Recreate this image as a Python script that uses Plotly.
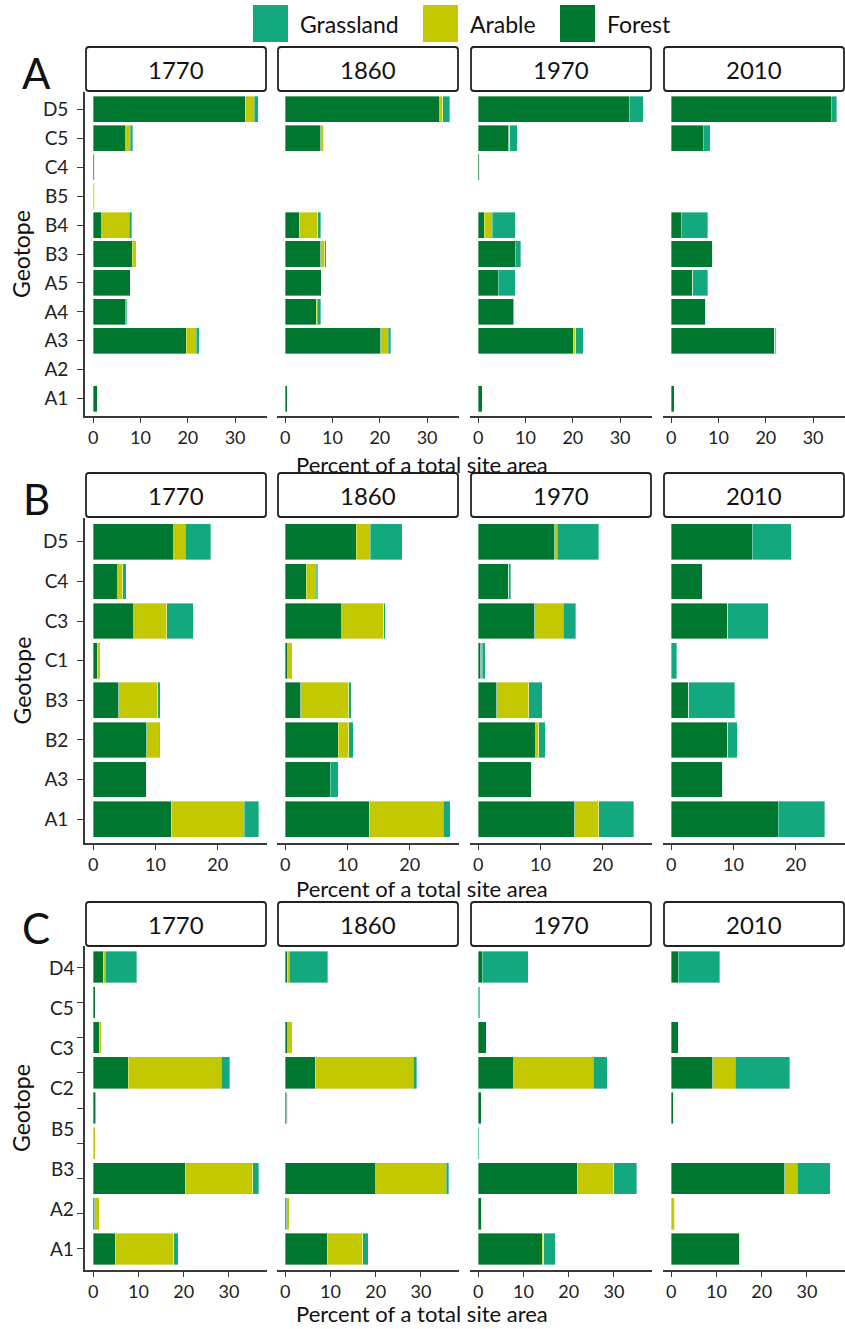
import numpy as np
import plotly.graph_objects as go

W, H = 845, 1329
FONT = "Lato"

years = ["1770", "1860", "1970", "2010"]
stack_order = ["Forest", "Arable", "Grassland"]      # left -> right in each bar
legend_order = ["Grassland", "Arable", "Forest"]
land_colors = {"Forest": "#00772f", "Arable": "#c3c800", "Grassland": "#13a87e"}

#################
# PANEL A DATA  #
#################
geotope_a = ["D5", "C5", "C4", "B5", "B4", "B3", "A5", "A4", "A3", "A2", "A1"]
forest_a = {
    "1770": [32.1, 6.9, 0.3, 0.0, 1.8, 8.2, 7.8, 6.8, 19.7, 0.0, 0.8],
    "1860": [32.7, 7.5, 0.0, 0.0, 3.0, 7.5, 7.6, 6.6, 20.2, 0.0, 0.4],
    "1970": [31.9, 6.4, 0.3, 0.0, 1.3, 7.8, 4.2, 7.4, 20.1, 0.0, 0.8],
    "2010": [33.8, 6.8, 0.0, 0.0, 2.1, 8.8, 4.5, 7.3, 21.9, 0.0, 0.6],
}
arable_a = {
    "1770": [1.9, 0.9, 0.0, 0.3, 5.8, 0.9, 0.0, 0.0, 2.1, 0.0, 0.0],
    "1860": [0.6, 0.6, 0.0, 0.0, 3.9, 0.9, 0.0, 0.2, 1.6, 0.0, 0.0],
    "1970": [0.0, 0.3, 0.0, 0.0, 1.7, 0.0, 0.0, 0.0, 0.5, 0.0, 0.0],
    "2010": [0.0, 0.0, 0.0, 0.0, 0.0, 0.0, 0.0, 0.0, 0.0, 0.0, 0.0],
}
grass_a = {
    "1770": [0.9, 0.6, 0.0, 0.0, 0.5, 0.0, 0.0, 0.3, 0.6, 0.0, 0.0],
    "1860": [1.5, 0.0, 0.0, 0.0, 0.6, 0.3, 0.0, 0.7, 0.5, 0.0, 0.0],
    "1970": [3.0, 1.5, 0.0, 0.0, 4.8, 1.2, 3.6, 0.2, 1.6, 0.0, 0.0],
    "2010": [1.2, 1.4, 0.0, 0.0, 5.6, 0.0, 3.2, 0.0, 0.2, 0.0, 0.0],
}
xticks_a = [0, 10, 20, 30]

#################
# PANEL B DATA  #
#################
geotope_b = ["D5", "C4", "C3", "C1", "B3", "B2", "A3", "A1"]
forest_b = {
    "1770": [12.9, 3.9, 6.5, 0.6, 4.1, 8.6, 8.5, 12.5],
    "1860": [11.4, 3.4, 9.1, 0.4, 2.5, 8.5, 7.2, 13.5],
    "1970": [12.3, 4.9, 9.1, 0.4, 3.0, 9.2, 8.5, 15.5],
    "2010": [13.0, 5.0, 9.1, 0.0, 2.8, 9.1, 8.3, 17.2],
}
arable_b = {
    "1770": [1.9, 0.8, 5.3, 0.5, 6.3, 2.0, 0.0, 11.8],
    "1860": [2.3, 1.6, 6.7, 0.7, 7.7, 1.7, 0.0, 11.9],
    "1970": [0.4, 0.0, 4.6, 0.2, 5.1, 0.5, 0.0, 3.9],
    "2010": [0.0, 0.0, 0.0, 0.0, 0.0, 0.0, 0.0, 0.0],
}
grass_b = {
    "1770": [4.1, 0.6, 4.3, 0.0, 0.4, 0.2, 0.0, 2.3],
    "1860": [5.1, 0.2, 0.3, 0.0, 0.4, 0.7, 1.3, 1.1],
    "1970": [6.7, 0.3, 2.0, 0.5, 2.2, 1.1, 0.0, 5.6],
    "2010": [6.3, 0.0, 6.5, 0.9, 7.4, 1.5, 0.0, 7.5],
}
xticks_b = [0, 10, 20]

#################
# PANEL C DATA  #
#################
# nine bar rows, but the original figure only carries eight geotope labels
rows_c = ["D4", "C5", "C3", "C2", "row5", "B5", "B3", "A2", "A1"]
labels_c = ["D4", "C5", "C3", "C2", "B5", "B3", "A2", "A1"]
forest_c = {
    "1770": [2.2, 0.45, 1.3, 7.7, 0.5, 0.0, 20.4, 0.35, 4.85],
    "1860": [0.45, 0.0, 0.6, 6.6, 0.35, 0.0, 20.0, 0.3, 9.3],
    "1970": [0.9, 0.0, 1.75, 7.9, 0.65, 0.0, 21.9, 0.8, 14.1],
    "2010": [1.5, 0.0, 1.5, 9.2, 0.5, 0.0, 25.1, 0.0, 15.2],
}
arable_c = {
    "1770": [0.45, 0.0, 0.6, 20.6, 0.15, 0.45, 14.9, 0.95, 12.95],
    "1860": [0.45, 0.0, 0.9, 21.7, 0.15, 0.0, 15.6, 0.6, 7.8],
    "1970": [0.0, 0.0, 0.0, 17.5, 0.0, 0.0, 8.1, 0.0, 0.4],
    "2010": [0.0, 0.0, 0.0, 5.0, 0.0, 0.0, 2.8, 0.8, 0.0],
}
grass_c = {
    "1770": [6.95, 0.0, 0.0, 1.9, 0.0, 0.0, 1.3, 0.0, 0.95],
    "1860": [8.5, 0.0, 0.0, 0.8, 0.0, 0.0, 0.6, 0.0, 1.2],
    "1970": [10.2, 0.3, 0.0, 3.1, 0.0, 0.2, 5.1, 0.0, 2.5],
    "2010": [9.2, 0.0, 0.0, 12.0, 0.0, 0.0, 7.3, 0.0, 0.0],
}
xticks_c = [0, 10, 20, 30]

panels = [
    dict(letter="A", rows=geotope_a, labels=None, ticks=xticks_a,
         data={"Forest": forest_a, "Arable": arable_a, "Grassland": grass_a}),
    dict(letter="B", rows=geotope_b, labels=None, ticks=xticks_b,
         data={"Forest": forest_b, "Arable": arable_b, "Grassland": grass_b}),
    dict(letter="C", rows=rows_c, labels=labels_c, ticks=xticks_c,
         data={"Forest": forest_c, "Arable": arable_c, "Grassland": grass_c}),
]

##########
# LAYOUT #
##########
facet_px = [(85, 267), (277, 459), (470, 652), (663, 845)]   # left, right
plot_py = [(92, 416), (518, 843), (946, 1270)]              # top, bottom
strip_py = [(47, 91), (473, 517), (902, 946)]
xlab_py = [464, 888, 1313]

px = lambda v: v / W
py = lambda v: 1 - v / H

fig = go.Figure()
shapes, annotations = [], []
layout = {}

def rounded_box(x0, y0, x1, y1, r=3):
    # rectangle with small rounded corners, pixel input -> paper path
    X = lambda v: f"{px(v):.5f}"
    Y = lambda v: f"{py(v):.5f}"
    return (f"M {X(x0 + r)},{Y(y0)} L {X(x1 - r)},{Y(y0)} Q {X(x1)},{Y(y0)} {X(x1)},{Y(y0 + r)} "
            f"L {X(x1)},{Y(y1 - r)} Q {X(x1)},{Y(y1)} {X(x1 - r)},{Y(y1)} "
            f"L {X(x0 + r)},{Y(y1)} Q {X(x0)},{Y(y1)} {X(x0)},{Y(y1 - r)} "
            f"L {X(x0)},{Y(y0 + r)} Q {X(x0)},{Y(y0)} {X(x0 + r)},{Y(y0)} Z")

def text(x, y, s, size, xanchor="center", yref="paper", **kw):
    return dict(x=x, y=y, xref="paper", yref=yref, text=s, showarrow=False,
                xanchor=xanchor, yanchor="middle",
                font=dict(family=FONT, size=size, color="#111"), **kw)

for p, panel in enumerate(panels):
    rows = panel["rows"]
    n = len(rows)
    totals = np.zeros((len(years), n))
    for k in stack_order:
        totals += np.array([panel["data"][k][y] for y in years])
    xmax = totals.max()
    xrange = [-0.05 * xmax, xmax * 1.05]
    top, bot = plot_py[p]
    for f, yr in enumerate(years):
        idx = p * 4 + f + 1
        xa, ya = f"x{idx}", f"y{idx}"
        for k in stack_order:
            fig.add_trace(go.Bar(
                x=panel["data"][k][yr], y=rows, orientation="h",
                xaxis=xa, yaxis=ya, marker_color=land_colors[k],
                marker_line=dict(color="rgba(255,255,255,0.6)", width=0.6),
                showlegend=False, name=k))
        first = f == 0
        layout[f"xaxis{idx}"] = dict(
            domain=[px(facet_px[f][0]), px(facet_px[f][1])], anchor=ya,
            range=xrange, tickvals=panel["ticks"], showgrid=False, zeroline=False,
            showline=True, linecolor="#3a3a3a", linewidth=1.6,
            ticks="outside", ticklen=5, tickwidth=1.2, tickcolor="#3a3a3a",
            tickfont=dict(family=FONT, size=18, color="#222"), fixedrange=True)
        layout[f"yaxis{idx}"] = dict(
            domain=[py(bot), py(top)], anchor=xa, type="category",
            categoryorder="array", categoryarray=rows,
            range=[n - 1 + 0.6, -0.6], showgrid=False, zeroline=False,
            showline=first, linecolor="#3a3a3a", linewidth=1.6,
            ticks="outside" if first else "", ticklen=6, tickwidth=1.2, tickcolor="#3a3a3a",
            showticklabels=first and panel["labels"] is None,
            ticklabelstandoff=5,
            tickfont=dict(family=FONT, size=19, color="#222"), fixedrange=True)
        # strip header
        s0, s1 = strip_py[p]
        shapes.append(dict(type="path", xref="paper", yref="paper",
                           path=rounded_box(facet_px[f][0] + 1, s0, facet_px[f][1] - 1, s1),
                           line=dict(color="#222", width=1.8), fillcolor="white"))
        annotations.append(text(px((facet_px[f][0] + facet_px[f][1]) / 2), py((s0 + s1) / 2), yr, 24))
    # labels of panel C are spread evenly over the nine rows, as in the figure
    if panel["labels"] is not None:
        pos = np.linspace(0, n - 1, len(panel["labels"]))
        for lab, yv in zip(panel["labels"], pos):
            a = text(px(76), yv, lab, 19, xanchor="right", yref=f"y{p * 4 + 1}")
            a["font"]["color"] = "#222"
            annotations.append(a)
    # panel letter, y title, x title
    annotations.append(text(px(36), py((strip_py[p][0] + strip_py[p][1]) / 2 + 4), panel["letter"], 42))
    annotations.append(text(px(21), py((top + bot) / 2), "Geotope", 23, textangle=-90))
    annotations.append(text(px(422), py(xlab_py[p]), "Percent of a total site area", 22))

# legend drawn by hand to get the large swatches
legend_px = {"Grassland": 253, "Arable": 423, "Forest": 560}
for k in legend_order:
    x0 = legend_px[k]
    shapes.append(dict(type="rect", xref="paper", yref="paper",
                       x0=px(x0), x1=px(x0 + 35), y0=py(42), y1=py(5),
                       fillcolor=land_colors[k], line=dict(width=0)))
    annotations.append(text(px(x0 + 45), py(24), k, 23, xanchor="left"))

fig.update_layout(
    width=W, height=H, margin=dict(l=0, r=0, t=0, b=0),
    barmode="stack", bargap=0.1,
    plot_bgcolor="white", paper_bgcolor="white",
    shapes=shapes, annotations=annotations, showlegend=False,
    **layout)

# the page body has a default margin; drop it so the figure sits at 0,0
fig.write_html("out.html", config={"displayModeBar": False},
               post_script="document.body.style.margin='0px';")
